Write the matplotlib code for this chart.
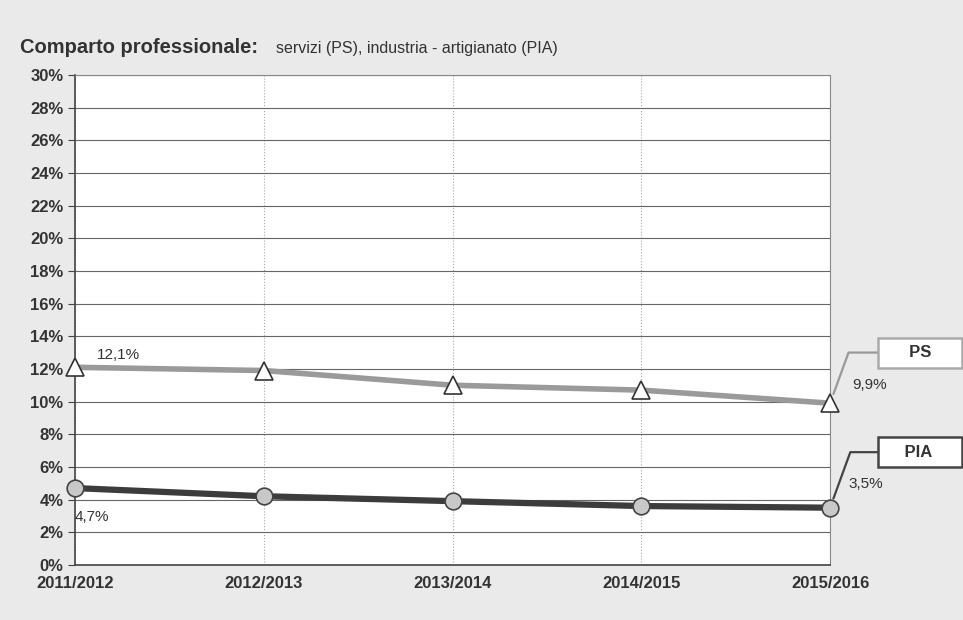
import matplotlib.pyplot as plt
from matplotlib.ticker import MultipleLocator, FuncFormatter

plt.rcParams['font.family'] = ['Liberation Sans', 'DejaVu Sans']

anni = ['2011/2012', '2012/2013', '2013/2014', '2014/2015', '2015/2016']
ps = [12.1, 11.9, 11.0, 10.7, 9.9]
pia = [4.7, 4.2, 3.9, 3.6, 3.5]

fig = plt.figure(figsize=(9.63, 6.2), dpi=100, facecolor='#eaeaea')
ax = fig.add_axes([0.078, 0.089, 0.784, 0.79])
ax.set_facecolor('white')

x = range(len(anni))
ax.plot(x, ps, color='#9a9a9a', lw=4, marker='^', ms=13,
        mfc='white', mec='#333333', mew=1.2, zorder=3, clip_on=False)
ax.plot(x, pia, color='#3c3c3c', lw=4.5, marker='o', ms=12,
        mfc='#c8c8c8', mec='#444444', mew=1.2, zorder=3, clip_on=False)

ax.set_xlim(0, len(anni) - 1)
ax.set_ylim(0, 30)
ax.yaxis.set_major_locator(MultipleLocator(2))
ax.yaxis.set_major_formatter(FuncFormatter(lambda v, p: f'{v:.0f}%'))
ax.set_xticks(list(x))
ax.set_xticklabels(anni, fontweight='bold', fontsize=12, color='#333333')
for lab in ax.get_yticklabels():
    lab.set_fontweight('bold')
    lab.set_fontsize(12)
    lab.set_color('#333333')
ax.tick_params(axis='x', length=0, pad=8)
ax.tick_params(axis='y', length=5, color='#444444')

ax.grid(axis='y', color='#666666', lw=0.8)
ax.grid(axis='x', color='#aaaaaa', lw=0.8, ls=':')
ax.set_axisbelow(True)
for side in ['top', 'right']:
    ax.spines[side].set_color('#888888')
for side in ['left', 'bottom']:
    ax.spines[side].set_color('#444444')
    ax.spines[side].set_linewidth(1.2)

def pct(v):
    return f'{v:.1f}%'.replace('.', ',')

ax.annotate(pct(ps[0]), (0, ps[0]), xytext=(16, 9), textcoords='offset points',
            fontsize=11, color='#333333', va='center')
ax.annotate(pct(pia[0]), (0, pia[0]), xytext=(0, -21), textcoords='offset points',
            fontsize=11, color='#333333', va='center')
ax.annotate(pct(ps[-1]), (4, ps[-1]), xytext=(16, 13), textcoords='offset points',
            fontsize=11, color='#333333', va='center')
ax.annotate(pct(pia[-1]), (4, pia[-1]), xytext=(13, 17), textcoords='offset points',
            fontsize=11, color='#333333', va='center')

# riquadri con etichette delle serie
ax.annotate('     PS     ', (4, ps[-1]), xytext=(4.295, 13.0), textcoords='data',
            fontsize=12, fontweight='bold', color='#333333', va='center', ha='left',
            annotation_clip=False,
            bbox=dict(boxstyle='square,pad=0.45', fc='white', ec='#aaaaaa', lw=1.8),
            arrowprops=dict(arrowstyle='-', color='#999999', lw=1.6,
                            connectionstyle='angle,angleA=0,angleB=70,rad=0',
                            shrinkA=0, shrinkB=7))
ax.annotate('    PIA     ', (4, pia[-1]), xytext=(4.295, 6.9), textcoords='data',
            fontsize=12, fontweight='bold', color='#333333', va='center', ha='left',
            annotation_clip=False,
            bbox=dict(boxstyle='square,pad=0.45', fc='white', ec='#444444', lw=1.8),
            arrowprops=dict(arrowstyle='-', color='#444444', lw=1.6,
                            connectionstyle='angle,angleA=0,angleB=70,rad=0',
                            shrinkA=0, shrinkB=7))

fig.text(0.021, 0.924, 'Comparto professionale:', fontsize=14.5, fontweight='bold',
         color='#333333', va='center')
fig.text(0.287, 0.922, 'servizi (PS), industria - artigianato (PIA)', fontsize=11.5,
         color='#333333', va='center')

fig.savefig('out.png', dpi=100, facecolor=fig.get_facecolor())
